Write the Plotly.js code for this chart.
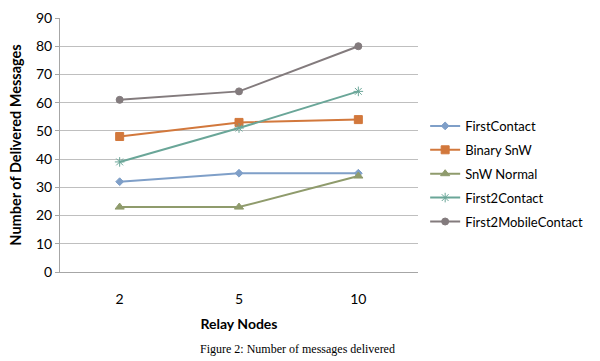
<!DOCTYPE html>
<html><head><meta charset="utf-8">
<script src="https://cdn.plot.ly/plotly-3.0.1.min.js"></script>
<style>html,body{margin:0;padding:0;background:#fff}#chart{width:600px;height:361px}</style>
</head><body><div id="chart"></div>
<script>
const relayNodes = ['2', '5', '10'];
const firstContact = [32, 35, 35];
const binarySnW = [48, 53, 54];
const snwNormal = [23, 23, 34];
const first2Contact = [39, 51, 64];
const first2MobileContact = [61, 64, 80];
const seriesNames = ['FirstContact', 'Binary SnW', 'SnW Normal', 'First2Contact', 'First2MobileContact'];

const colors = ['#7F9FC8', '#D2783C', '#8F9B6C', '#6AA698', '#837B7D'];
const symbols = ['diamond', 'square', 'triangle-up', 'asterisk-open', 'circle'];
const sizes = [6, 8, 8, 8, 7];
const values = [firstContact, binarySnW, snwNormal, first2Contact, first2MobileContact];

const traces = values.map((v, i) => ({
  x: relayNodes, y: v, name: seriesNames[i], type: 'scatter', mode: 'lines+markers',
  legendgroup: 'g' + i,
  line: {color: colors[i], width: 2},
  marker: {color: colors[i], symbol: symbols[i], size: sizes[i], line: {color: colors[i], width: 1}}
}));

const font = 'Lato, "Open Sans", sans-serif';
const layout = {
  width: 600, height: 361,
  margin: {l: 60, r: 178, t: 18, b: 89},
  paper_bgcolor: '#fff', plot_bgcolor: '#fff',
  showlegend: true,
  legend: {x: 1.02, xanchor: 'left', y: 0.386, yanchor: 'middle', tracegroupgap: 4,
    font: {family: font, size: 13, color: '#000'}, itemwidth: 30, bgcolor: 'rgba(0,0,0,0)'},
  xaxis: {type: 'category', range: [-0.5, 2.5], showgrid: false, showline: true, linecolor: '#A6A6A6', linewidth: 1,
    ticks: '', tickfont: {family: font, size: 14, color: '#000'}, ticklabelstandoff: 14,
    title: {text: '<b>Relay Nodes</b>', font: {family: font, size: 14, color: '#000'}, standoff: 13}},
  yaxis: {range: [0, 90], dtick: 10, showgrid: true, gridcolor: '#BFBFBF', gridwidth: 1,
    showline: true, linecolor: '#A6A6A6', linewidth: 1, ticks: 'outside', ticklen: 4, tickcolor: '#A6A6A6',
    tickfont: {family: font, size: 14, color: '#000'}, zeroline: false,
    title: {text: '<b>Number of Delivered Messages</b>', font: {family: font, size: 14.5, color: '#000'}, standoff: 10}},
  annotations: [{text: 'Figure 2: Number of messages delivered', xref: 'paper', yref: 'paper',
    x: (300 - 60) / 362, y: -(349 - 272) / 254, xanchor: 'center', yanchor: 'middle', showarrow: false,
    font: {family: '"Liberation Serif", "DejaVu Serif", serif', size: 12, color: '#000'}}]
};
Plotly.newPlot('chart', traces, layout, {displayModeBar: false, staticPlot: true});
</script></body></html>
